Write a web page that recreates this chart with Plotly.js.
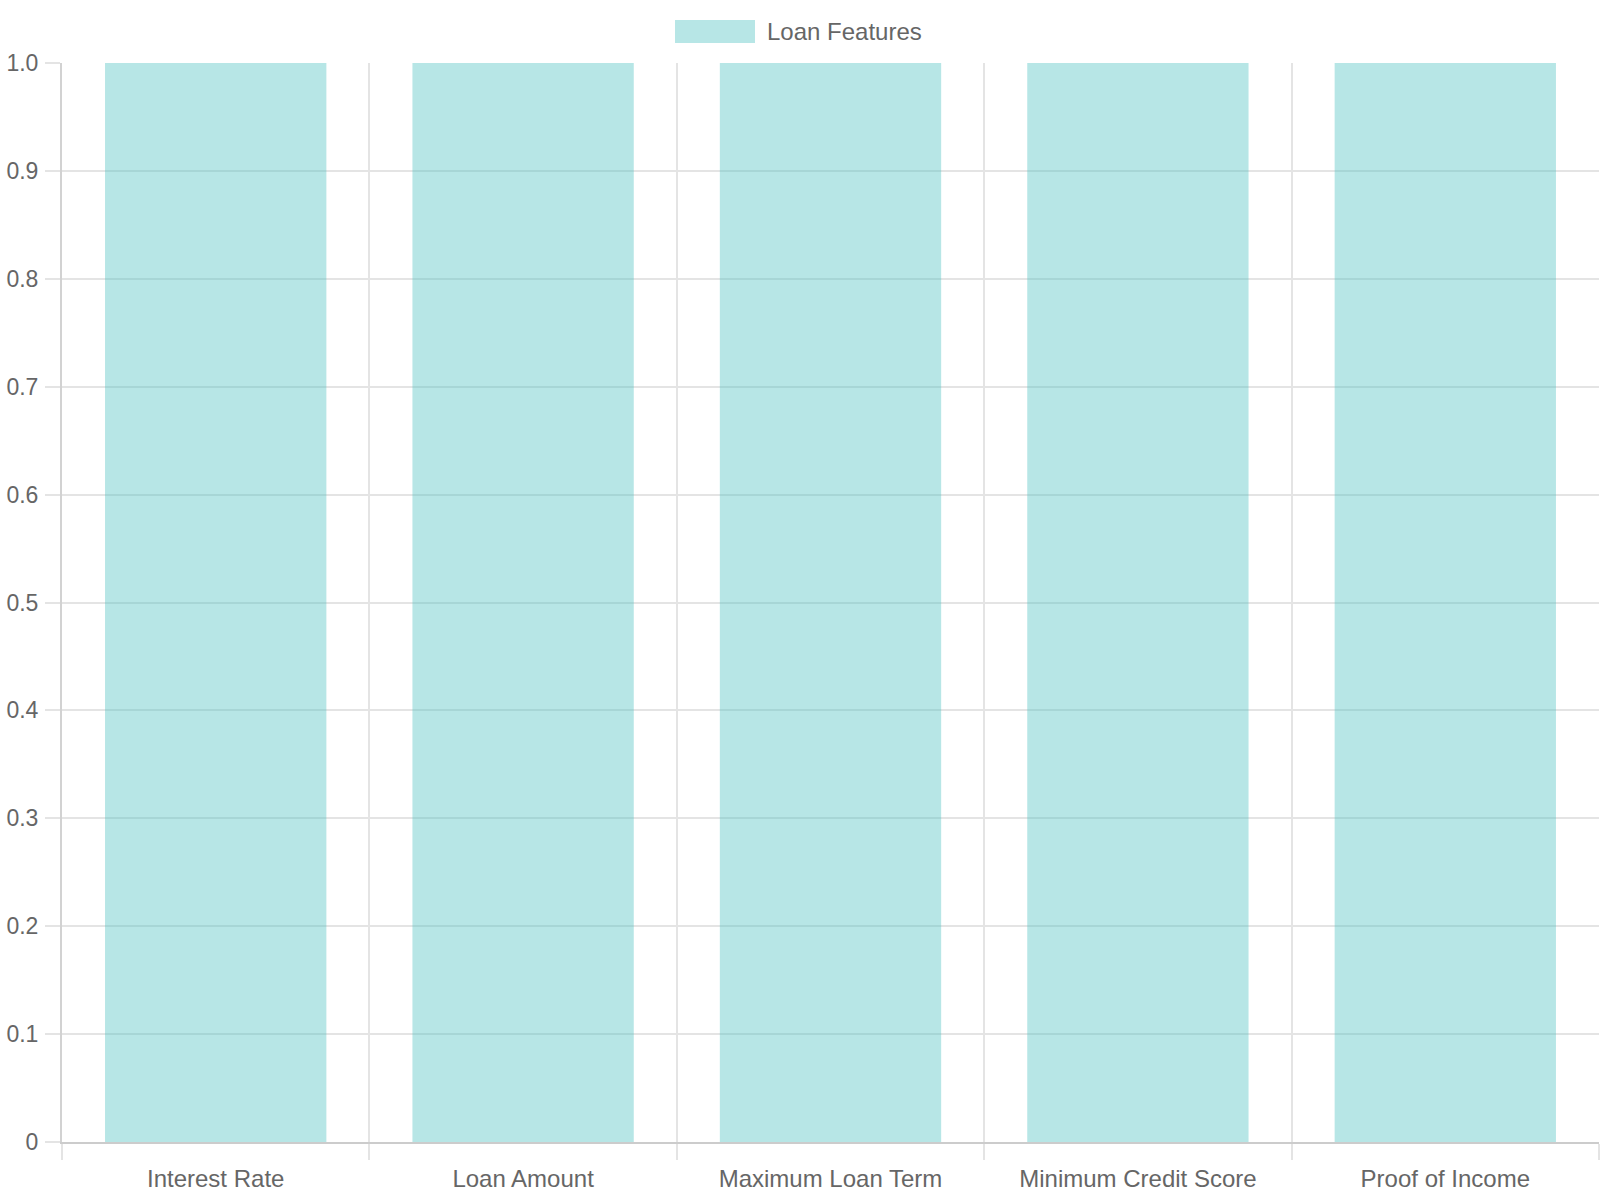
<!DOCTYPE html>
<html>
<head>
<meta charset="utf-8">
<script src="https://cdn.plot.ly/plotly-3.0.1.min.js"></script>
<style>
  html, body { margin: 0; padding: 0; background: #fff; }
  #chart { width: 1600px; height: 1200px; }
</style>
</head>
<body>
<div id="chart"></div>
<script>
// data
var categories = ["Interest Rate", "Loan Amount", "Maximum Loan Term", "Minimum Credit Score", "Proof of Income"];
var values = [1, 1, 1, 1, 1];
var seriesName = "Loan Features";
var yTickVals = [0, 0.1, 0.2, 0.3, 0.4, 0.5, 0.6, 0.7, 0.8, 0.9, 1.0];
var yTickText = ["0", "0.1", "0.2", "0.3", "0.4", "0.5", "0.6", "0.7", "0.8", "0.9", "1.0"];

var barFill = "rgba(75,192,192,0.4)";
var textColor = "#666666";
var gridColor = "#e4e4e4";
var fontFamily = "Liberation Sans, Arial, sans-serif";

var trace = {
    type: "bar",
    x: categories,
    y: values,
    name: seriesName,
    marker: { color: barFill, line: { width: 0 } },
    hoverinfo: "x+y"
};

var layout = {
    width: 1600,
    height: 1200,
    margin: { l: 62, r: 1, t: 63, b: 58, pad: 0 },
    paper_bgcolor: "#ffffff",
    plot_bgcolor: "#ffffff",
    font: { family: fontFamily, size: 24, color: textColor },
    showlegend: false,
    bargap: 0.28,
    xaxis: {
        type: "category",
        tickson: "boundaries",
        showgrid: true,
        gridcolor: gridColor,
        gridwidth: 2,
        ticks: "outside",
        ticklen: 16,
        tickwidth: 2,
        tickcolor: gridColor,
        showline: true,
        linecolor: "#cccccc",
        linewidth: 2,
        zeroline: false,
        ticklabelstandoff: 14,
        tickfont: { family: fontFamily, size: 24, color: textColor },
        fixedrange: true
    },
    yaxis: {
        range: [0, 1],
        tickmode: "array",
        tickvals: yTickVals,
        ticktext: yTickText,
        showgrid: true,
        gridcolor: gridColor,
        gridwidth: 2,
        ticks: "outside",
        ticklen: 15,
        tickwidth: 2,
        tickcolor: gridColor,
        showline: true,
        linecolor: "#d2d2d2",
        linewidth: 2,
        zeroline: false,
        ticklabelstandoff: 2,
        tickfont: { family: fontFamily, size: 23, color: textColor },
        fixedrange: true
    },
    // legend drawn by hand so the swatch can be the wide Chart.js style box
    shapes: [{
        type: "rect",
        xref: "paper", yref: "paper",
        x0: (675 - 62) / 1537, x1: (755 - 62) / 1537,
        y0: (1142 - 43) / 1079, y1: (1142 - 20) / 1079,
        fillcolor: barFill,
        line: { width: 0 }
    }],
    annotations: [{
        xref: "paper", yref: "paper",
        x: (765 - 62) / 1537, y: (1142 - 31.5) / 1079,
        xanchor: "left", yanchor: "middle",
        text: seriesName,
        showarrow: false,
        font: { family: fontFamily, size: 24, color: textColor }
    }]
};

Plotly.newPlot("chart", [trace], layout, { displayModeBar: false, staticPlot: true });
</script>
</body>
</html>
